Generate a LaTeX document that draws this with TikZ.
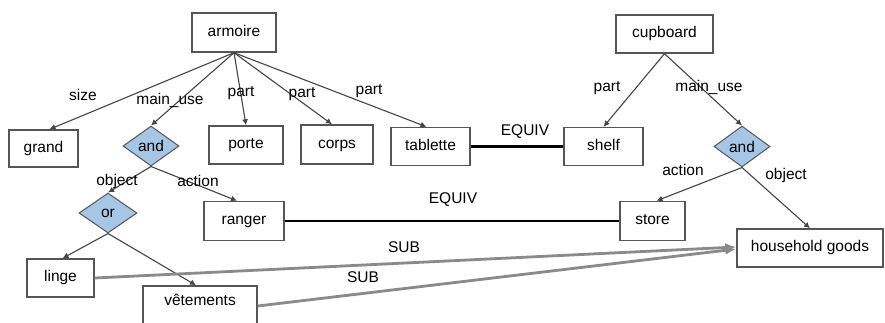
\documentclass[tikz,border=0pt]{standalone}
\usepackage{fontspec}
\setmainfont{Liberation Sans}
\usetikzlibrary{shapes.geometric,arrows.meta}
\definecolor{boxline}{HTML}{555555}
\definecolor{edgeline}{HTML}{454545}
\definecolor{subline}{HTML}{8A8A8A}
\definecolor{dfill}{HTML}{A6C6E6}
\begin{document}
\begin{tikzpicture}[x=1pt,y=-1pt,
  every node/.style={font=\fontsize{15.5}{18}\selectfont},
  box/.style={draw=boxline,line width=1.4pt,inner sep=0pt,text height=11pt,text depth=4pt},
  logic/.style={diamond,draw=boxline,line width=1pt,fill=dfill,inner sep=0pt,aspect=1.4},
  rel/.style={draw=edgeline,line width=1.1pt,-{Latex[length=6pt,width=6pt]}},
  equiv/.style={draw=black,line width=2.8pt},
  sub/.style={draw=subline,line width=2.8pt,-{Latex[length=11pt,width=9pt]}},
  lbl/.style={inner sep=0pt,text=black}]
\useasboundingbox (0,0) rectangle (885,322);
\clip (0,0) rectangle (885,322);
\fill[white] (0,0) rectangle (885,322);
% boxes
\node[box,minimum width=84pt,minimum height=39pt] (armoire) at (234,32.5) {armoire};
\node[box,minimum width=69pt,minimum height=37pt] (grand) at (43.5,148.5) {grand};
\node[box,minimum width=74pt,minimum height=38pt] (porte) at (246,145) {porte};
\node[box,minimum width=72pt,minimum height=39pt] (corps) at (337,144.5) {corps};
\node[box,minimum width=79pt,minimum height=38pt] (tablette) at (430.5,146.5) {tablette};
\node[box,minimum width=97pt,minimum height=38pt] (cupboard) at (664.5,34) {cupboard};
\node[box,minimum width=79pt,minimum height=38pt] (shelf) at (603.5,146.5) {shelf};
\node[box,minimum width=80pt,minimum height=39pt] (ranger) at (244,221) {ranger};
\node[box,minimum width=65pt,minimum height=39pt] (store) at (652.5,221) {store};
\node[box,minimum width=146pt,minimum height=38pt] (goods) at (810,248) {household goods};
\node[box,minimum width=67pt,minimum height=38pt] (linge) at (60.5,278) {linge};
\node[box,minimum width=114pt,minimum height=38pt,text depth=10pt] (vet) at (200,305) {vêtements};
% logic nodes
\node[logic,minimum width=56pt,minimum height=40pt] (andL) at (151,146) {and};
\node[logic,minimum width=56pt,minimum height=41pt] (andR) at (742,146.5) {and};
\node[logic,minimum width=58pt,minimum height=40pt] (orL) at (108,213) {or};
% relations
\draw[rel] (armoire.south) -- ([xshift=6pt]grand.north);
\draw[rel] (armoire.south) -- (andL.north);
\draw[rel] (armoire.south) -- (porte.north);
\draw[rel] (armoire.south) -- ([xshift=-5pt]corps.north);
\draw[rel] (armoire.south) -- ([xshift=-4pt]tablette.north);
\draw[rel] (cupboard.south) -- (shelf.north);
\draw[rel] (cupboard.south) -- (andR.north);
\draw[rel] (andR.south) -- ([xshift=4pt]store.north);
\draw[rel] (andR.south) -- (goods.north);
\draw[rel] (andL.south) -- (orL.north);
\draw[rel] (andL.south) -- ([xshift=-7pt]ranger.north);
\draw[rel] (orL.south) -- ([xshift=2pt]linge.north);
\draw[rel] (orL.south) -- ([xshift=-4pt]vet.north);
% equivalences
\draw[equiv] (tablette.east) -- (shelf.west);
\draw[equiv] (ranger.east) -- (store.west);
% sub
\draw[sub] (linge.east) -- ([yshift=1pt]goods.west);
\draw[sub] ([yshift=-1pt]vet.east) -- ([yshift=-1pt]goods.west);
% labels
\node[lbl] (l1) at (83,95) {size};
\node[lbl] (l2) at (170,100) {main\_use};
\node[lbl] (l3) at (241,93) {part};
\node[lbl] (l4) at (302,94) {part};
\node[lbl] (l5) at (369,91) {part};
\node[lbl] (l6) at (607,88) {part};
\node[lbl] (l7) at (709,87) {main\_use};
\node[lbl] (l8) at (525,132) {EQUIV};
\node[lbl] (l9) at (683,170) {action};
\node[lbl] (l10) at (786,175) {object};
\node[lbl] (l11) at (453,200) {EQUIV};
\node[lbl] (l12) at (117,181) {object};
\node[lbl] (l13) at (198,181) {action};
\node[lbl] (l14) at (404,247) {SUB};
\node[lbl] (l15) at (363,277) {SUB};
\end{tikzpicture}
\end{document}
